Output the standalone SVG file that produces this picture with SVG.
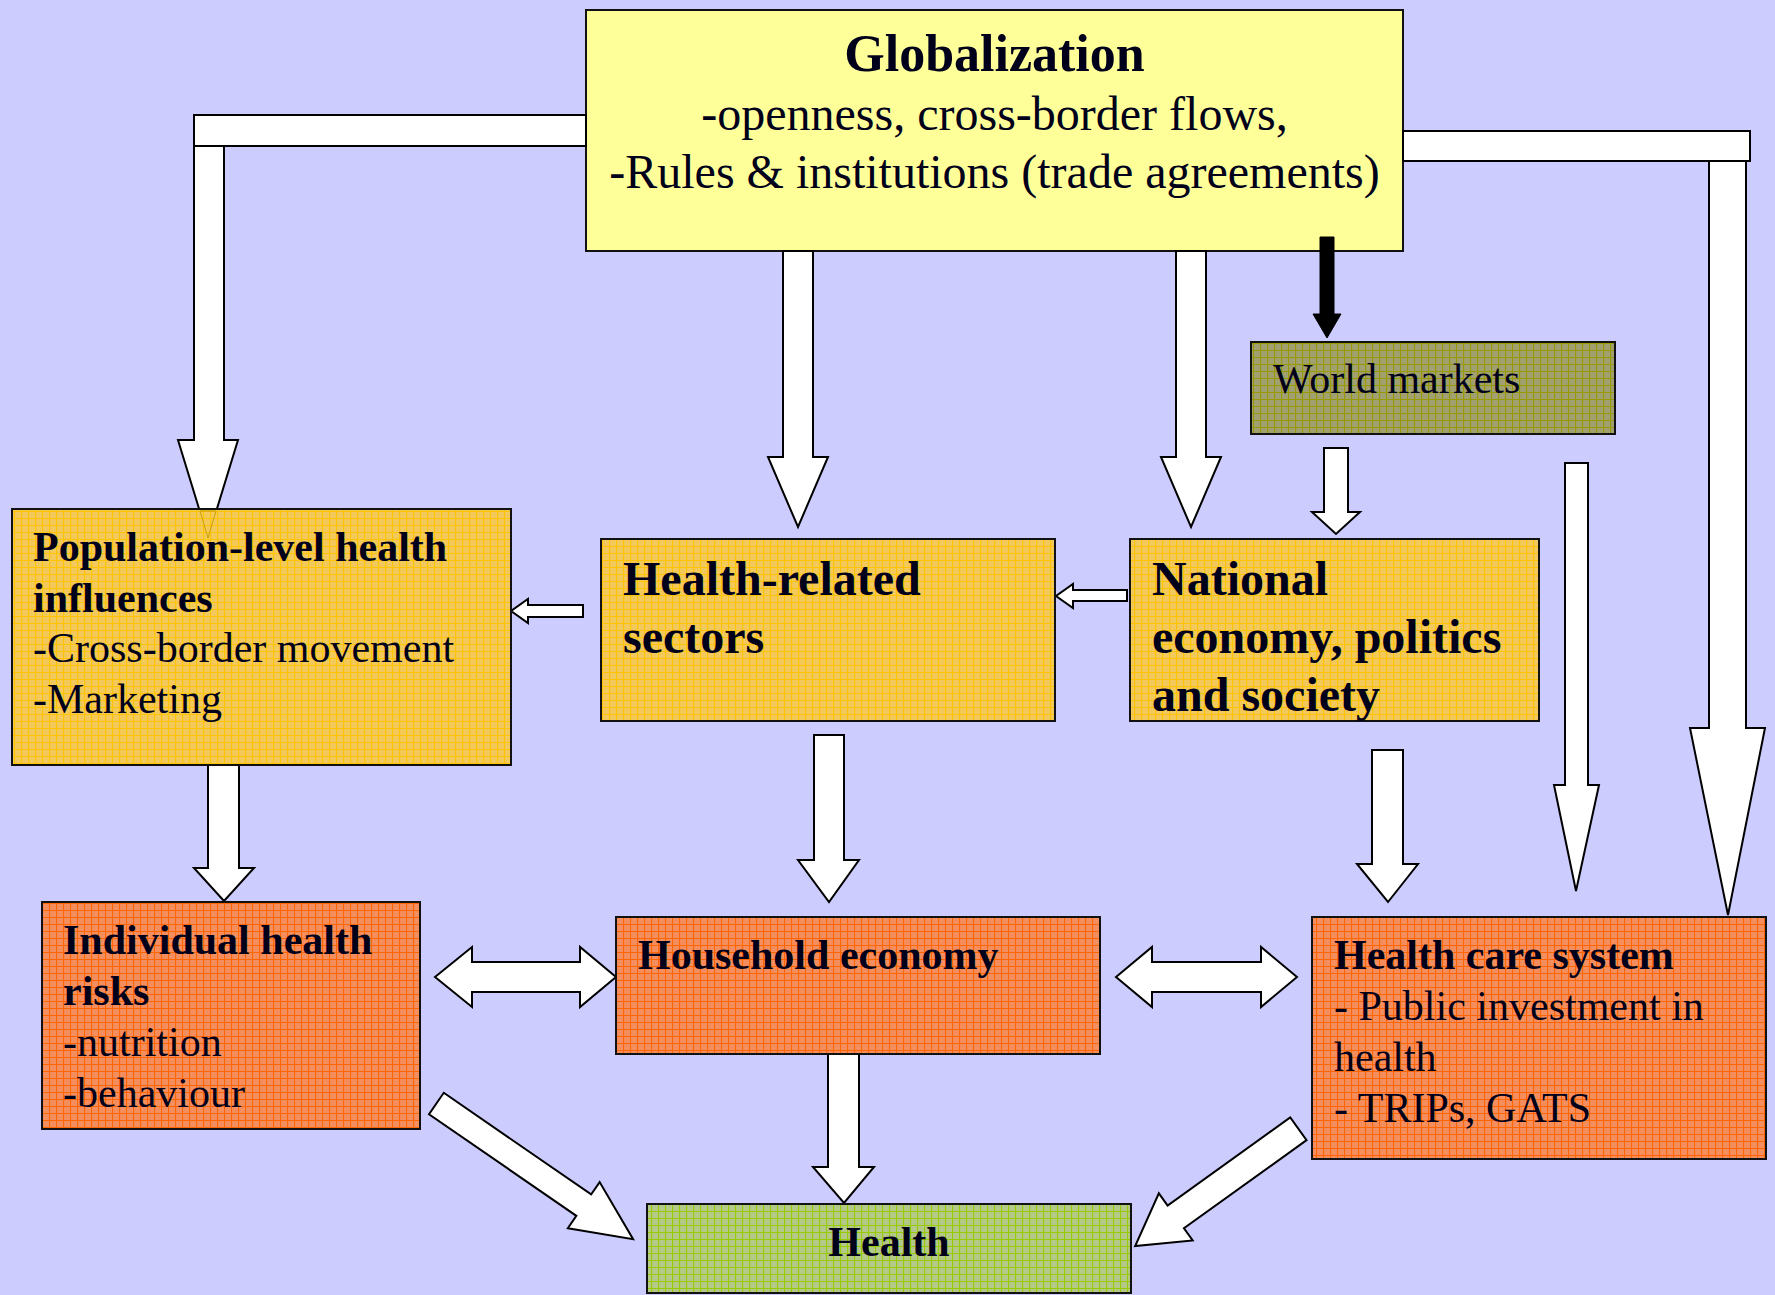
<svg xmlns="http://www.w3.org/2000/svg" width="1775" height="1295" viewBox="0 0 1775 1295">
<defs>
<pattern id="pYellow" width="7" height="7" patternUnits="userSpaceOnUse"><rect width="7" height="7" fill="#F2C95A"/><path d="M0 0.5H7M0.5 0V7" stroke="#FFC400" stroke-width="1.2"/></pattern>
<pattern id="pOrange" width="7" height="7" patternUnits="userSpaceOnUse"><rect width="7" height="7" fill="#F58E5E"/><path d="M0 0.5H7M0.5 0V7" stroke="#FF6600" stroke-width="1.2"/></pattern>
<pattern id="pGreen" width="7" height="7" patternUnits="userSpaceOnUse"><rect width="7" height="7" fill="#B4C88A"/><path d="M0 0.5H7M0.5 0V7" stroke="#99CC00" stroke-width="1.2"/></pattern>
<pattern id="pOlive" width="7" height="7" patternUnits="userSpaceOnUse"><rect width="7" height="7" fill="#A0A070"/><path d="M0 0.5H7M0.5 0V7" stroke="#999900" stroke-width="1.2"/></pattern>
</defs>
<style>
.box{stroke:#111;stroke-width:2}
.arr{fill:#fff;stroke:#000;stroke-width:2;stroke-linejoin:miter}
.t{font-family:"Liberation Serif","Times New Roman",serif;fill:#00001A;font-size:42px}
.b{font-weight:bold}
.r{font-weight:normal}
</style>
<rect width="1775" height="1295" fill="#CCCCFF"/>

<g id="globalization">
  <rect class="box" x="586" y="10" width="817" height="241" fill="#FFFF99"/>
  <text class="t b" x="994.5" y="71" text-anchor="middle" style="font-size:52px">Globalization</text>
  <text class="t r" x="994.5" y="130" text-anchor="middle" style="font-size:48px">-openness, cross-border flows,</text>
  <text class="t r" x="994.5" y="188" text-anchor="middle" style="font-size:48px">-Rules &amp; institutions (trade agreements)</text>
</g>

<g id="connectors">
  <!-- Globalization -> Population-level -->
  <polygon class="arr" points="194,146 224,146 224,440 238,440 208,538 178,440 194,440"/>
  <rect class="arr" x="194" y="115" width="392" height="31"/>
  <!-- Globalization -> Health care system -->
  <polygon class="arr" points="1709,161 1746,161 1746,728 1765,728 1728,915 1690,728 1709,728"/>
  <rect class="arr" x="1403" y="131" width="347" height="30"/>
  <!-- Globalization -> Health-related sectors -->
  <polygon class="arr" points="783,251 813,251 813,457 828,457 798,527 768,457 783,457"/>
  <!-- Globalization -> National economy -->
  <polygon class="arr" points="1176,251 1206,251 1206,457 1221,457 1191,527 1161,457 1176,457"/>
  <!-- Globalization -> World markets (black) -->
  <polygon points="1320,237 1334,237 1334,314 1341,314 1327,338 1313,314 1320,314" fill="#000" stroke="#000" stroke-width="1"/>
  <!-- World markets -> National economy -->
  <polygon class="arr" points="1324,448 1348,448 1348,512 1360,512 1336,534 1312,512 1324,512"/>
  <!-- World markets -> Health care system -->
  <polygon class="arr" points="1565,463 1588,463 1588,785 1599,785 1576,891 1554,785 1565,785"/>
  <!-- National -> Health-related -->
  <polygon class="arr" points="1127,590 1127,601 1073,601 1073,608 1056,596 1073,584 1073,590"/>
  <!-- Health-related -> Population-level -->
  <polygon class="arr" points="583,605 583,617 528,617 528,623 511,611 528,599 528,605"/>
  <!-- Population-level -> Individual -->
  <polygon class="arr" points="208,765 239,765 239,868 254,868 224,901 194,868 208,868"/>
  <!-- Health-related -> Household -->
  <polygon class="arr" points="814,735 844,735 844,860 859,860 829,902 798,860 814,860"/>
  <!-- National -> Health care -->
  <polygon class="arr" points="1372,750 1403,750 1403,864 1418,864 1388,902 1357,864 1372,864"/>
  <!-- Individual <-> Household -->
  <polygon class="arr" points="435,977 472,947 472,962 580,962 580,947 616,977 580,1007 580,992 472,992 472,1007"/>
  <!-- Household <-> Health care -->
  <polygon class="arr" points="1116,977 1152,947 1152,962 1261,962 1261,947 1297,977 1261,1007 1261,992 1152,992 1152,1007"/>
  <!-- Household -> Health -->
  <polygon class="arr" points="828,1054 859,1054 859,1167 874,1167 844,1203 813,1167 828,1167"/>
  <!-- Individual -> Health -->
  <polygon class="arr" transform="translate(436.4,1103.5) rotate(34.6)" points="0,-13 179,-13 179,-28 239,0 179,28 179,13 0,13"/>
  <!-- Health care -> Health -->
  <polygon class="arr" transform="translate(1298.4,1128.8) rotate(144.3)" points="0,-14 151,-14 151,-29 201,0 151,29 151,14 0,14"/>
</g>

<g id="world-markets">
  <rect class="box" x="1251" y="342" width="364" height="92" fill="url(#pOlive)"/>
  <text class="t r" x="1273" y="393">World markets</text>
</g>

<g id="population-level">
  <rect class="box" x="12" y="509" width="499" height="256" fill="url(#pYellow)"/>
  <polygon points="200,511 216,511 208,538" fill="none" stroke="#C9A000" stroke-width="1"/>
  <text class="t b" x="33" y="561">Population-level health</text>
  <text class="t b" x="33" y="612">influences</text>
  <text class="t r" x="33" y="662">-Cross-border movement</text>
  <text class="t r" x="33" y="713">-Marketing</text>
</g>

<g id="health-related">
  <rect class="box" x="601" y="539" width="454" height="182" fill="url(#pYellow)"/>
  <text class="t b" x="623" y="595" style="font-size:48px">Health-related</text>
  <text class="t b" x="623" y="653" style="font-size:48px">sectors</text>
</g>

<g id="national-economy">
  <rect class="box" x="1130" y="539" width="409" height="182" fill="url(#pYellow)"/>
  <text class="t b" x="1152" y="595" style="font-size:48px">National</text>
  <text class="t b" x="1152" y="653" style="font-size:48px">economy, politics</text>
  <text class="t b" x="1152" y="711" style="font-size:48px">and society</text>
</g>

<g id="individual-risks">
  <rect class="box" x="42" y="902" width="378" height="227" fill="url(#pOrange)"/>
  <text class="t b" x="63" y="954">Individual health</text>
  <text class="t b" x="63" y="1005">risks</text>
  <text class="t r" x="63" y="1056">-nutrition</text>
  <text class="t r" x="63" y="1107">-behaviour</text>
</g>

<g id="household-economy">
  <rect class="box" x="616" y="917" width="484" height="137" fill="url(#pOrange)"/>
  <text class="t b" x="638" y="969">Household economy</text>
</g>

<g id="health-care-system">
  <rect class="box" x="1312" y="917" width="454" height="242" fill="url(#pOrange)"/>
  <text class="t b" x="1334" y="969">Health care system</text>
  <text class="t r" x="1334" y="1020">- Public investment in</text>
  <text class="t r" x="1334" y="1071">health</text>
  <text class="t r" x="1334" y="1122">- TRIPs, GATS</text>
</g>

<g id="health">
  <rect class="box" x="647" y="1204" width="484" height="89" fill="url(#pGreen)"/>
  <text class="t b" x="889" y="1256" text-anchor="middle">Health</text>
</g>
</svg>
